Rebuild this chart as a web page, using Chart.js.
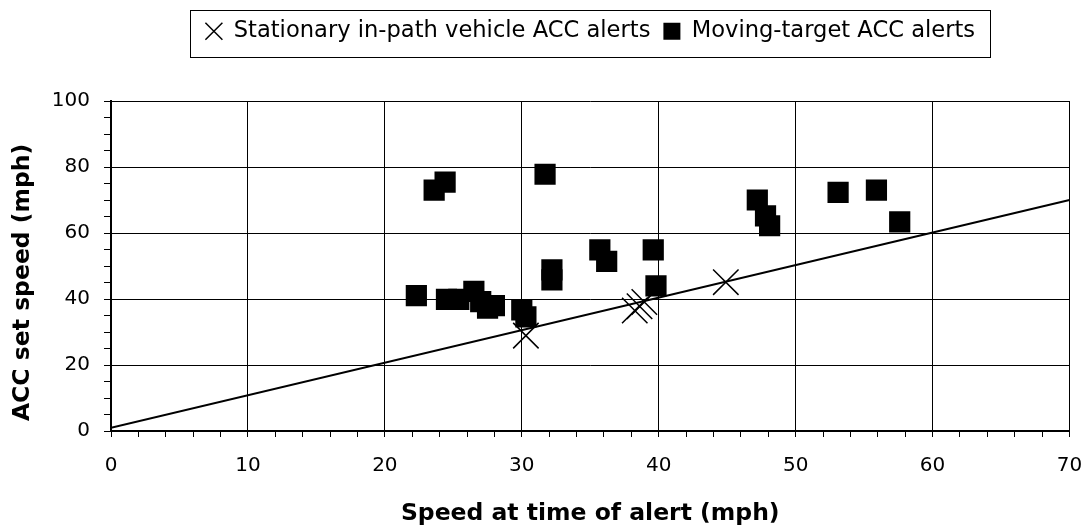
<!DOCTYPE html>
<html>
<head>
<meta charset="utf-8">
<script src="https://cdn.jsdelivr.net/npm/chart.js@4.4.0/dist/chart.umd.min.js"></script>
<style>
  html, body { margin: 0; padding: 0; background: #fff; }
  #wrap { width: 1089px; height: 532px; }
</style>
</head>
<body>
<div id="wrap"><canvas id="accChart" width="1089" height="532"></canvas></div>
<script>
// Stationary in-path vehicle alerts
const stationaryX = [30.3, 38.25, 38.6, 38.95, 44.9];
const stationaryY = [28.9, 36.5, 37.8, 39.1, 45.1];

// Moving-target alerts
const movingX = [22.3, 23.6, 24.4, 24.5, 25.4, 26.5, 27.0, 27.5, 28.0, 30.0, 30.3, 31.7,
  32.2, 32.2, 35.7, 36.2, 39.6, 39.8, 47.2, 47.8, 48.1, 53.1, 55.9, 57.6];
const movingY = [41.0, 73.0, 75.4, 39.9, 39.9, 42.3, 39.2, 37.2, 38.0, 36.7, 34.6, 77.8,
  48.8, 45.8, 54.9, 51.4, 54.9, 44.0, 70.0, 65.2, 62.2, 72.3, 73.0, 63.4];

// reference line (set speed = alert speed)
const refLineX = [0, 70];
const refLineY = [1, 70];

const xTickLabels = ['0', '10', '20', '30', '40', '50', '60', '70'];
const yTickLabels = ['0', '20', '40', '60', '80', '100'];

const FONT = "'DejaVu Sans', sans-serif";
const toPoints = (xs, ys) => xs.map((x, i) => ({ x: x, y: ys[i] }));

const legendFrame = {
  id: 'legendFrame',
  afterInit(chart) {
    // leave room under the legend
    const lg = chart.legend;
    const fit = lg.fit;
    lg.fit = function () { fit.call(this); this.height = 94; };
  },
  afterDraw(chart) {
    const boxes = chart.legend.legendHitBoxes;
    if (!boxes || !boxes.length) return;
    const left = Math.min(...boxes.map(b => b.left)) - 15;
    const right = Math.max(...boxes.map(b => b.left + b.width)) + 15;
    const top = boxes[0].top - 10.5;
    const bottom = boxes[0].top + boxes[0].height + 14;
    const ctx = chart.ctx;
    ctx.save();
    ctx.strokeStyle = '#000';
    ctx.lineWidth = 1;
    ctx.strokeRect(Math.round(left) + 0.5, Math.round(top) + 0.5, Math.round(right - left), Math.round(bottom - top));
    ctx.restore();
  }
};

new Chart(document.getElementById('accChart'), {
  type: 'scatter',
  data: {
    datasets: [{
      label: 'Stationary in-path vehicle ACC alerts',
      data: toPoints(stationaryX, stationaryY),
      pointStyle: 'crossRot',
      pointRadius: 18,
      pointBorderWidth: 1.5,
      borderWidth: 1.5,
      borderColor: '#000',
      backgroundColor: '#000',
    }, {
      label: 'Moving-target ACC alerts',
      data: toPoints(movingX, movingY),
      pointStyle: 'rect',
      pointRadius: 15,
      borderWidth: 0,
      pointBorderWidth: 0,
      borderColor: '#000',
      backgroundColor: '#000',
    }, {
      label: 'line',
      data: toPoints(refLineX, refLineY),
      showLine: true,
      pointRadius: 0,
      borderWidth: 2,
      borderColor: '#000',
    }],
  },
  options: {
    responsive: false,
    animation: false,
    devicePixelRatio: 1,
    layout: { padding: { top: 7, right: 18, bottom: 0, left: 0 } },
    plugins: {
      tooltip: { enabled: false },
      legend: {
        position: 'top',
        fullSize: false,
        labels: {
          usePointStyle: true,
          boxWidth: 17,
          boxHeight: 17,
          padding: 13,
          color: '#000',
          font: { family: FONT, size: 22.6 },
          filter: (item) => item.datasetIndex !== 2,
        },
      },
    },
    scales: {
      x: {
        type: 'linear',
        min: 0,
        max: 70,
        afterFit: (s) => { s.height = 101; s.paddingLeft = 0; s.paddingRight = 0; },
        ticks: {
          stepSize: 2,
          autoSkip: false,
          maxRotation: 0,
          padding: 17,
          color: '#000',
          font: { family: FONT, size: 20 },
          callback: (v) => xTickLabels.includes(String(v)) ? String(v) : '',
        },
        grid: {
          color: (c) => c.tick && c.tick.value % 10 === 0 ? '#000' : 'transparent',
          tickColor: '#000',
          tickLength: 6,
          lineWidth: 1,
        },
        border: { color: '#000', width: 2 },
        title: {
          display: true,
          text: 'Speed at time of alert (mph)',
          color: '#000',
          font: { family: FONT, size: 23.5, weight: 'bold' },
          padding: { top: 0, bottom: 4 },
        },
      },
      y: {
        type: 'linear',
        min: 0,
        max: 100,
        afterFit: (s) => { s.width = 111; },
        ticks: {
          stepSize: 5,
          autoSkip: false,
          padding: 14,
          color: '#000',
          font: { family: FONT, size: 20 },
          callback: (v) => yTickLabels.includes(String(v)) ? String(v) : '',
        },
        grid: {
          color: (c) => c.tick && c.tick.value % 20 === 0 ? '#000' : 'transparent',
          tickColor: '#000',
          tickLength: 7,
          lineWidth: 1,
        },
        border: { color: '#000', width: 2 },
        title: {
          display: true,
          text: 'ACC set speed (mph)    ',
          color: '#000',
          font: { family: FONT, size: 23.5, weight: 'bold' },
          padding: { top: 9, bottom: 0 },
        },
      },
    },
  },
  plugins: [legendFrame],
});
</script>
</body>
</html>
